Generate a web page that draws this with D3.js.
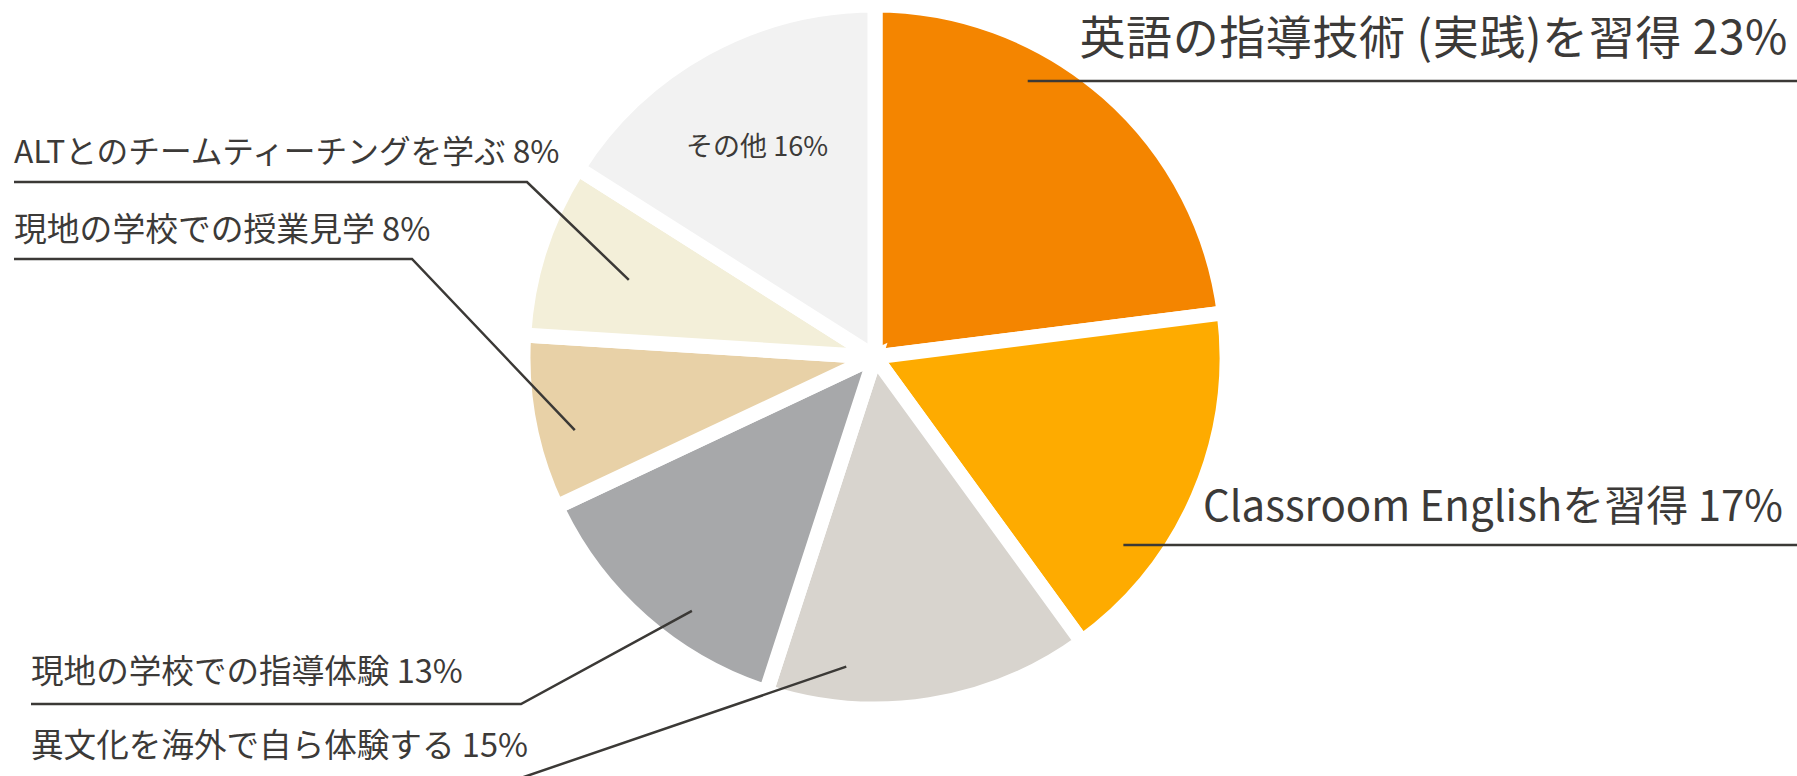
<!DOCTYPE html>
<html>
<head>
<meta charset="utf-8">
<script src="https://cdn.jsdelivr.net/npm/d3@7"></script>
<style>
  html, body { margin: 0; padding: 0; background: #fff; overflow: hidden; }
  text { font-family: "Noto Sans CJK JP", "Noto Sans", sans-serif; fill: #3c3a38; }
</style>
</head>
<body>
<script>
// values, clockwise from 12 o'clock
var categories = [
  '英語の指導技術 (実践)を習得',
  'Classroom Englishを習得',
  '異文化を海外で自ら体験する',
  '現地の学校での指導体験',
  '現地の学校での授業見学',
  'ALTとのチームティーチングを学ぶ',
  'その他'
];
var percents = [23, 17, 15, 13, 8, 8, 16];
var colors = ['#f48500', '#feab00', '#d8d4ce', '#a7a8aa', '#e8d1a7', '#f3efd9', '#f2f2f2'];

// label layout (placed by hand in the original)
var labelX = [1788, 1783, 31, 31, 14, 14];
var labelY = [54, 521, 757, 683, 241, 163];
var labelAnchor = ['end', 'end', 'start', 'start', 'start', 'start'];
var labelSize = [46, 42, 32.6, 32.6, 32.8, 31.7];
var labelSpacing = [0.6, 0, 0, 0, 0, 0];
var lineY = [81, 545, 781, 704, 259, 182];
var elbowX = [null, null, 512, 521, 412, 527];
var pointAngle = [28.9, 127.0, 185.3, 215.8, 256.3, 287.4, 330.7];
var pointRadius = [316, 311, 311, 313, 309, 258, 241];

var width = 1797;
var height = 776;
var cx = 875;
var cy = 357;
var radius = 352;

var svg = d3.select('body').append('svg')
  .attr('width', width)
  .attr('height', height);

var pie = d3.pie().sort(null).value(function(d) { return d; });
var arc = d3.arc().innerRadius(0).outerRadius(radius);
var arcs = pie(percents);

var g = svg.append('g').attr('transform', 'translate(' + cx + ',' + cy + ')');

g.selectAll('path')
  .data(arcs)
  .enter().append('path')
  .attr('d', arc)
  .attr('fill', function(d, i) { return colors[i]; })
  .attr('stroke', '#fff')
  .attr('stroke-width', 15)
  .attr('stroke-linejoin', 'miter');

var anchorPoint = function(i) {
  var p = d3.pointRadial(pointAngle[i] * Math.PI / 180, pointRadius[i]);
  return [cx + p[0], cy + p[1]];
};

// leader lines
for (var i = 0; i < 6; i++) {
  var a = anchorPoint(i);
  var pts;
  if (elbowX[i] === null) {
    pts = [[a[0], lineY[i]], [width, lineY[i]]];
  } else {
    pts = [[labelX[i], lineY[i]], [elbowX[i], lineY[i]], a];
  }
  svg.append('path')
    .attr('d', d3.line()(pts))
    .attr('fill', 'none')
    .attr('stroke', '#3b3936')
    .attr('stroke-width', 2.5);
}

// labels
svg.selectAll('text.lbl')
  .data(categories.slice(0, 6))
  .enter().append('text')
  .attr('class', 'lbl')
  .attr('x', function(d, i) { return labelX[i]; })
  .attr('y', function(d, i) { return labelY[i]; })
  .attr('text-anchor', function(d, i) { return labelAnchor[i]; })
  .style('font-size', function(d, i) { return labelSize[i] + 'px'; })
  .style('letter-spacing', function(d, i) { return labelSpacing[i] + 'px'; })
  .text(function(d, i) { return d + ' ' + percents[i] + '%'; });

// label inside the "other" slice
var p6 = anchorPoint(6);
svg.append('text')
  .attr('x', p6[0])
  .attr('y', p6[1])
  .attr('dy', '0.35em')
  .attr('text-anchor', 'middle')
  .style('font-size', '27px')
  .text(categories[6] + ' ' + percents[6] + '%');
</script>
</body>
</html>
